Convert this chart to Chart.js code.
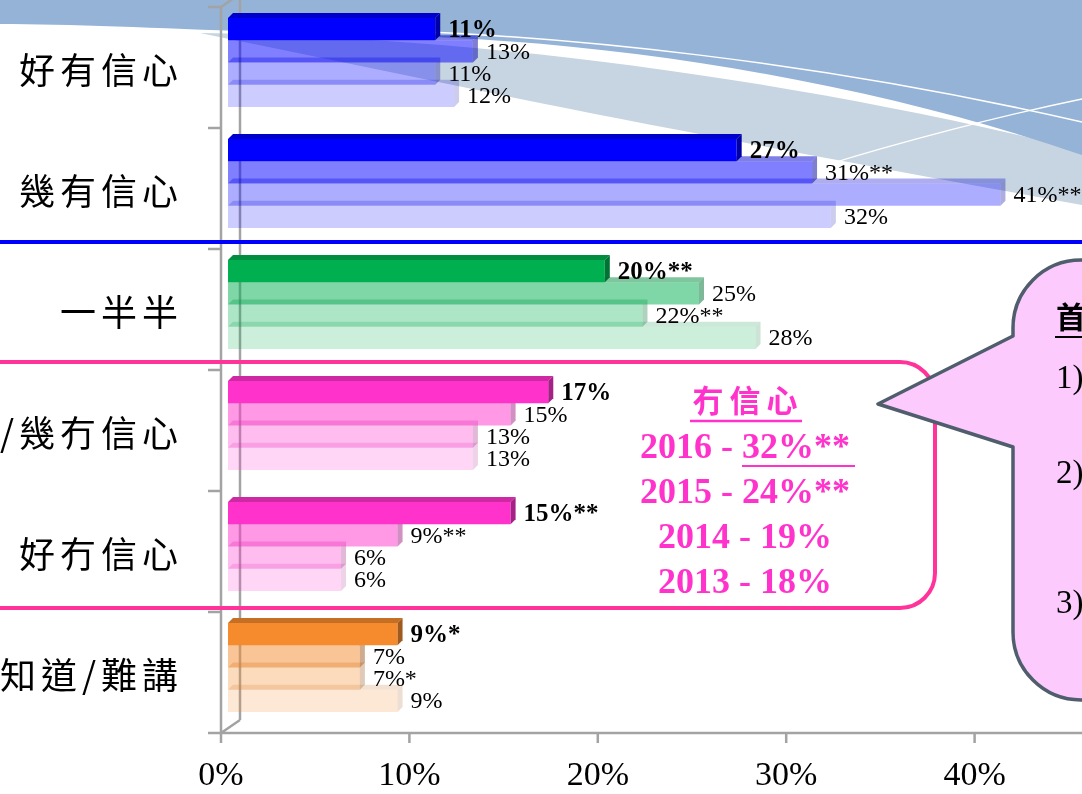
<!DOCTYPE html>
<html><head><meta charset="utf-8">
<script src="https://cdn.jsdelivr.net/npm/chart.js@4.4.1/dist/chart.umd.min.js"></script>
<style>
html,body{margin:0;padding:0;background:#fff;}
#wrap{position:relative;width:1082px;height:794px;overflow:hidden;background:#fff;}
#bg,#c,#ov{position:absolute;left:0;top:0;}
#ov{pointer-events:none;}
</style></head><body>
<div id="wrap">
<svg id="bg" width="1082" height="794">
  <path d="M200,33 C420,37 720,62 1082,150 V205 C880,168 700,135 540,103 Z" fill="#c7d4e1"/>
  <path d="M0,0 H1082 V155 C900,92 650,42 400,36 C250,33 100,24 0,24 Z" fill="#95b3d7"/>
  <path d="M330,29 C560,32 830,64 1082,122" fill="none" stroke="#ffffff" stroke-width="1.5"/>
  <path d="M823,166 C900,142 1000,116 1082,99" fill="none" stroke="#ffffff" stroke-width="1.3"/>
</svg>
<canvas id="c" width="1240" height="794"></canvas>
<svg id="ov" width="1082" height="794" font-family="'Liberation Serif', serif">
  <line x1="0" y1="242" x2="1082" y2="242" stroke="#0000ff" stroke-width="4"/>
  <path d="M-50,362 H900 A35,35 0 0 1 935,397 V573 A35,35 0 0 1 900,608 H-50" fill="none" stroke="#ff3399" stroke-width="4"/>
  <g id="summary" fill="#ff33cc" font-weight="700" text-anchor="middle"></g>
  <path d="M1200,260 H1081 A68,68 0 0 0 1013,328 V336 L878,404 L1013,447 V632 A68,68 0 0 0 1081,700 H1200 Z" fill="#fccafc" stroke="#4f5d6d" stroke-width="3.5" stroke-linejoin="round"/>
  <g id="callout" fill="#000"></g>
</svg>
</div>
<script>
// ---- data ----
const categories = ['好有信心', '幾有信心', '一半半', '/幾冇信心', '好冇信心', '唔知道/難講'];
const years = ['2016', '2015', '2014', '2013'];
const values2016 = [11, 27, 20, 17, 15, 9];
const values2015 = [13, 31, 25, 15, 9, 7];
const values2014 = [11, 41, 22, 13, 6, 7];
const values2013 = [12, 32, 28, 13, 6, 9];
const marks2016 = ['', '', '**', '', '**', '*'];
const marks2015 = ['', '**', '', '', '**', ''];
const marks2014 = ['', '**', '**', '', '', '*'];
const marks2013 = ['', '', '', '', '', ''];
const xTickValues = [0, 10, 20, 30, 40, 50];
const summaryTitle = '冇信心';
const summaryYears = ['2016', '2015', '2014', '2013'];
const summaryValues = [32, 24, 19, 18];
const summaryMarks = ['**', '**', '', ''];
const calloutTitle = '首';
const calloutItems = ['1)', '2)', '3)'];

const seriesValues = [values2016, values2015, values2014, values2013];
const seriesMarks = [marks2016, marks2015, marks2014, marks2013];
const groupColors = [[0,0,255],[0,0,255],[0,176,80],[255,51,204],[255,51,204],[246,139,46]];
const yearAlpha = [1, 0.5, 0.32, 0.2];

function rgba(c, a, k) { k = k || 1; return `rgba(${Math.round(c[0]*k)},${Math.round(c[1]*k)},${Math.round(c[2]*k)},${a})`; }

const D = 5;          // bar depth
const FX = -7, FY = 5; // front plane offset from bar plane
const BX = 19, BY = -13; // back wall depth

const frame3d = {
  id: 'frame3d',
  beforeDatasetsDraw(chart) {
    const ctx = chart.ctx, xs = chart.scales.x;
    const x0 = xs.getPixelForValue(0) + FX;
    const yTop = chart.chartArea.top + FY, yBot = chart.chartArea.bottom + FY;
    const band = (yBot - yTop) / categories.length;
    ctx.save();
    ctx.strokeStyle = '#a3a3a3'; ctx.lineWidth = 2.5; ctx.lineCap = 'butt';
    ctx.beginPath();
    ctx.moveTo(x0, yTop); ctx.lineTo(x0, yBot + 10);
    ctx.moveTo(x0 - 13, yBot); ctx.lineTo(chart.width, yBot);
    for (let k = 0; k <= categories.length; k++) { const y = yTop + k * band; ctx.moveTo(x0 - 13, y); ctx.lineTo(x0, y); }
    xTickValues.forEach(v => { const px = xs.getPixelForValue(v) + FX; ctx.moveTo(px, yBot); ctx.lineTo(px, yBot + 10); });
    ctx.moveTo(x0, yTop); ctx.lineTo(x0 + BX, yTop + BY);
    ctx.moveTo(x0, yBot); ctx.lineTo(x0 + BX, yBot + BY);
    ctx.moveTo(x0 + BX, yTop + BY - 10); ctx.lineTo(x0 + BX, yBot + BY);
    ctx.stroke();
    ctx.restore();
  },
  afterDatasetDraw(chart, args) {
    const ctx = chart.ctx, di = args.index;
    ctx.save();
    args.meta.data.forEach((bar, i) => {
      const p = bar.getProps(['x', 'y', 'base', 'height'], true);
      const top = p.y - p.height / 2, bottom = p.y + p.height / 2;
      const c = groupColors[i], a = yearAlpha[di];
      ctx.fillStyle = rgba(c, a, 0.8);
      ctx.beginPath(); ctx.moveTo(p.base, top); ctx.lineTo(p.base + D, top - D); ctx.lineTo(p.x + D, top - D); ctx.lineTo(p.x, top); ctx.closePath(); ctx.fill();
      ctx.fillStyle = rgba(c, a, 0.65);
      ctx.beginPath(); ctx.moveTo(p.x, top); ctx.lineTo(p.x + D, top - D); ctx.lineTo(p.x + D, bottom - D); ctx.lineTo(p.x, bottom); ctx.closePath(); ctx.fill();
    });
    ctx.restore();
  },
  afterDatasetsDraw(chart) {
    const ctx = chart.ctx;
    ctx.save();
    ctx.fillStyle = '#000'; ctx.textAlign = 'left'; ctx.textBaseline = 'middle';
    chart.data.datasets.forEach((ds, di) => {
      const meta = chart.getDatasetMeta(di);
      ctx.font = di === 0 ? 'bold 25px "Liberation Serif"' : '24px "Liberation Serif"';
      meta.data.forEach((bar, i) => {
        const p = bar.getProps(['x', 'y'], true);
        ctx.fillText(ds.data[i] + '%' + seriesMarks[di][i], p.x + D + 8, p.y + 1);
      });
    });
    // category labels
    const ys = chart.scales.y;
    ctx.font = '36px "Noto Sans CJK TC"';
    ctx.letterSpacing = '5px';
    ctx.textAlign = 'right';
    categories.forEach((lab, i) => {
      ctx.fillText(lab, 183, ys.getPixelForValue(i) + FY + 3);
    });
    ctx.restore();
  }
};

new Chart(document.getElementById('c'), {
  type: 'bar',
  data: {
    labels: categories,
    datasets: years.map((y, d) => ({
      label: y,
      data: seriesValues[d],
      backgroundColor: categories.map((_, i) => rgba(groupColors[i], yearAlpha[d])),
      borderWidth: 0,
      categoryPercentage: 0.735,
      barPercentage: 1.0
    }))
  },
  options: {
    indexAxis: 'y',
    responsive: false,
    animation: false,
    devicePixelRatio: 1,
    layout: { padding: { left: 228, right: 70, top: 2, bottom: 0 } },
    plugins: { legend: { display: false }, tooltip: { enabled: false } },
    scales: {
      y: { type: 'category', display: false, offset: true },
      x: {
        min: 0, max: 50,
        afterBuildTicks: s => { s.ticks = xTickValues.map(v => ({ value: v })); },
        afterFit: s => { s.height = 66; },
        grid: { display: false, drawTicks: false },
        border: { display: false },
        ticks: {
          callback: v => v + '%',
          font: { family: 'Liberation Serif', size: 34 },
          color: '#000', padding: 28, labelOffset: FX,
          maxRotation: 0, autoSkip: false
        }
      }
    }
  },
  plugins: [frame3d]
});

// ---- annotation text ----
const NS = 'http://www.w3.org/2000/svg';
function addText(parent, str, attrs) {
  const t = document.createElementNS(NS, 'text');
  for (const k in attrs) t.setAttribute(k, attrs[k]);
  t.textContent = str; parent.appendChild(t); return t;
}
function addLine(parent, x1, y1, x2, y2, color, w) {
  const l = document.createElementNS(NS, 'line');
  l.setAttribute('x1', x1); l.setAttribute('y1', y1); l.setAttribute('x2', x2); l.setAttribute('y2', y2);
  l.setAttribute('stroke', color); l.setAttribute('stroke-width', w); parent.appendChild(l);
}
const sg = document.getElementById('summary');
addText(sg, summaryTitle, { x: 748, y: 412, 'font-family': "'Noto Sans CJK TC'", 'font-size': 31, 'letter-spacing': 6 });
addLine(sg, 690, 421, 802, 421, '#ff33cc', 2.5);
summaryYears.forEach((yr, i) => {
  addText(sg, `${yr} - ${summaryValues[i]}%${summaryMarks[i]}`, { x: 745, y: 458 + i * 45, 'font-size': 36 });
});
addLine(sg, 742, 466, 855, 466, '#ff33cc', 2);

const cg = document.getElementById('callout');
addText(cg, calloutTitle, { x: 1056, y: 328, 'font-family': "'Noto Sans CJK TC'", 'font-size': 30, 'font-weight': 700 });
addLine(cg, 1055, 337, 1082, 337, '#000', 2);
const itemY = [388, 483, 613];
calloutItems.forEach((s, i) => addText(cg, s, { x: 1056, y: itemY[i], 'font-size': 33 }));
</script>
</body></html>
